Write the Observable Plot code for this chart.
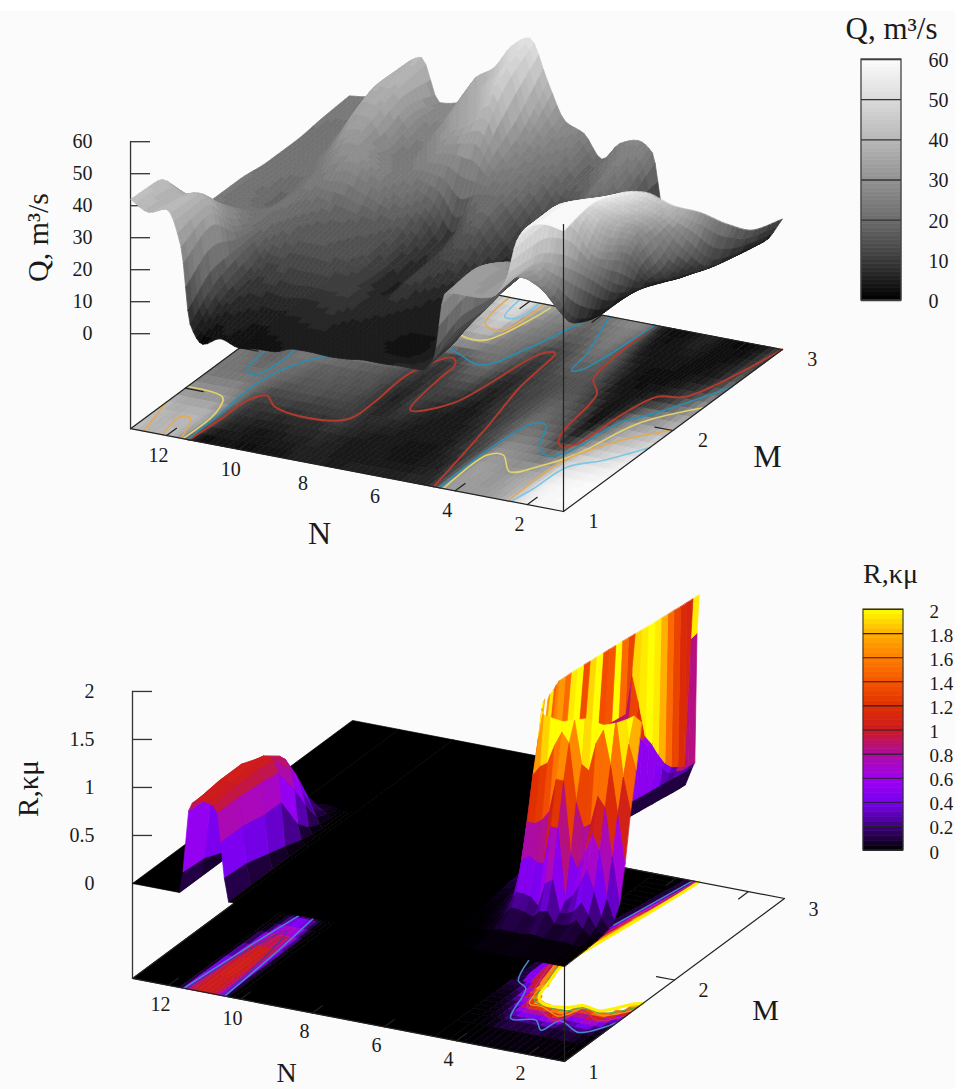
<!DOCTYPE html>
<html><head><meta charset="utf-8">
<script src="https://cdn.jsdelivr.net/npm/d3@7"></script>
<script src="https://cdn.jsdelivr.net/npm/@observablehq/plot@0.6"></script>
<style>
html,body{margin:0;padding:0;background:linear-gradient(#fff 11px,#fbfbfb 11px);}
svg{display:block;}
</style></head><body><div id="chart"></div>
<script>
// ---------- Q(N,M) ----------
const qN=[1,1.5,2,2.3,2.6,3,3.5,4,4.3,4.6,5,5.5,6,6.5,7,7.5,8,8.5,9,9.5,10,10.5,11,11.35,11.6,12,12.5,13];
const qM=[1,1.25,1.5,1.75,2,2.25,2.5,2.75,3];
const qValues=[
[58,59,57,52,39,33,32,32,31,10,6,6,5.7,5.7,5,4.7,5,4.9,3,2.7,2,3.8,1,6.6,30,41,39,42],
[60,59,57,53,38,35,31,33,32,14,6,4,3,3.5,4,4,5,6,5.5,5,4,5,7,14,34,39.5,38,41.5],
[57,54,50.5,47,31,22,26,29,28,14,10,5,4,4,5,6,7,10,9,9.5,9,10,9.5,17,24,30,30,31],
[51,45,39,30,21,6,17,20.5,20.5,17,11,7,4,5,7,10,5,9,13,14,15,15,17,19,21,22,22,23],
[40.5,35,30,23,10,2.5,11,16,18,16,12,9.5,5,8,12,11,7,10,15,16,17,18,20,22,21,18,21,23],
[32,20,10.5,8,5,3,5,12,14,14,13,11,7,12,19,16,8,16,20,23,26,29,28,25,23,21,21,22],
[22,8,4.5,3,2.5,2.5,3,9,14,17,19,14,10,17,22,25,32,31,29,25,23,27,34,34,30,23,21,22],
[14,5,2.5,2,3,4,3,4,10,18,24,19,17,22,25,30,47,40,35,31,25,30,38,38,34,26,22,23],
[11,3,1.5,2,4,6,3,2,6,24,27,25,19,26,28.5,40,52.6,49,41,37,28,27,40,38,34,29.5,24.5,23.7]];
// Q contour lines on the base, [N,M]
const q10=[[[1,3],[1.7,2.36],[2.36,2.3],[2.6,2.05],[2.71,1.69],[2.95,1.63],[3.2,1.68],[3.41,1.8],[3.77,2.22],[4.24,2.34],[4.37,2.42],[4.56,3]],
[[11.38,1],[11.3,1.26],[11.27,1.49],[10.98,1.58],[10.5,1.49],[9.64,1.44],[8.5,1.5],[8.42,1.71],[8.5,2.07],[8,2.3],[7.76,2.24],[7.69,2.08],[7.4,1.71],[6.65,1.86],[6.2,2.5],[5.9,2.54],[5.66,2.14],[5.2,1.69],[4.6,1]]];
const q20=[[[4.44,1],[4.5,1.46],[4.27,1.81],[3.94,1.81],[3.46,1.59],[3.07,1.52],[2.71,1.57],[2.4,1.98],[1.92,2.13],[1,2.54]],
[[11.42,1],[11.46,1.31],[11.57,1.65],[11.38,1.89],[10.67,2.12],[9.5,2.3],[8.36,2.38],[7.2,2.28],[6.7,2.49],[6.23,2.88],[6.1,3]],
[[12.5,2.2],[12.36,2.02],[12.17,1.79],[11.89,1.76],[11.68,1.99],[11.76,2.11],[11.6,2.3]],
[[5.8,3],[5.18,2.59],[5.02,2.4],[4.83,2.42],[4.54,3]]];
const q30=[[[4.33,1],[4.36,1.41],[4,1.44],[3.38,1.29],[2.9,1.39],[2.41,1.59],[1.98,2],[1,2.28]],
[[13,1.52],[11.9,1.48],[11.6,1.32],[11.55,1]],
[[8.9,2.6],[8.41,2.53],[7.8,2.54],[7.34,2.97]]];
const q40=[[[2.53,1],[2.5,1.5],[1.86,1.8],[1,2.01]],[[13,1.33],[12.63,1]],
[[12.1,1],[12.28,1.2],[12,1.22],[11.6,1]],[[8.56,3],[8.33,2.7],[7.75,2.65],[7.59,3]]];
const q50=[[[2.46,1],[2.35,1.15],[2.24,1.44],[1.63,1.58],[1,1.79]],[[8.27,3],[8.09,2.8],[7.78,2.81],[7.73,3]]];
// ---------- R(N,M) ----------
const bumpN=[10.2,10.33,10.45,10.55,10.64,10.75,10.9,11.05,11.2,11.35,11.44,11.6,11.7];
const bumpM=[1,1.2,1.4,1.55,1.7,1.8,1.9,2,2.1];
const bumpR=[
[0,0,.24,.6,.9,.97,.99,1,1,.95,.87,.22,0],
[0,0,.22,.6,.9,1,1.03,1.05,1.03,.95,.85,.2,0],
[0,0,.15,.55,.88,1,1.05,1.05,1.03,.9,.5,.1,0],
[0,0,.1,.55,.85,.98,1,1,.96,.85,.45,.05,0],
[0,0,.04,.2,.55,.75,.85,.87,.75,.35,.1,.02,0],
[0,0,.02,.08,.3,.45,.6,.62,.45,.18,.05,.01,0],
[0,0,0,.03,.1,.18,.3,.3,.2,.06,.02,0,0],
[0,0,0,.01,.04,.07,.1,.1,.07,.02,0,0,0],
[0,0,0,0,.01,.02,.03,.03,.02,0,0,0,0]];
const frontN=[1,1.2,1.4,1.6,1.8,2,2.2,2.4,2.6,2.8,3,3.2,3.4,3.6,3.8,4,4.2,4.6];
const frontM=[1,1.2,1.3,1.35,1.4,1.45,1.5,1.55,1.6,1.65,1.7];
const frontR=[
[0,0,0,0,0,0,0,0,0,0,0,0,0,0,0,0,0,0],
[.01,.01,.02,.04,.03,.03,.03,.05,.05,.03,.04,.04,.04,.02,.01,0,0,0],
[.02,.04,.1,.18,.12,.1,.1,.22,.2,.13,.16,.18,.18,.1,.04,.02,.01,0],
[.03,.08,.2,.32,.22,.18,.17,.5,.45,.2,.28,.3,.3,.14,.06,.03,.01,0],
[.05,.15,.4,.62,.45,.32,.25,1,1,.6,.6,.65,.6,.22,.09,.04,.02,0],
[.1,.3,.8,.95,.75,.55,.7,1.45,1.45,1.1,1,.95,.95,.45,.13,.06,.03,0],
[.22,.7,1.2,1.3,1,.95,1.2,1.8,1.9,1.75,1.55,1.5,1.4,.8,.2,.09,.04,.01],
[.6,1.1,1.6,1.95,1.8,1.5,1.55,2,2.3,2.4,2.3,2.2,1.75,1.1,.55,.13,.06,.02],
[1.1,1.45,2.05,2.6,2.6,2.3,2.3,2.6,3,3,3,3,2.2,1.45,.85,.2,.08,.03],
[1.5,1.75,2.5,3,3,3,3,3,3,3,3,3,2.7,1.95,1.2,.4,.13,.04],
[1.95,2,3,3,3,3,3,3,3,3,3,3,3,2.3,1.6,.7,.2,.05]];
// back wall: one strip per M, running from the clip line (R=2) to its foot (R=.2)
const backM=[1.7,1.75,1.8,1.85,1.9,1.95,2,2.05,2.1,2.15,2.2,2.25,2.3,2.35,2.4,2.45,2.5,2.55,2.6,2.65,2.7,2.75,2.8,2.85,2.9,2.95,3];
const backTop=[3.6,3.7,3.75,3.83,3.9,3.88,3.87,3.85,3.83,3.8,3.78,3.75,3.73,3.7,3.68,3.65,3.62,3.59,3.56,3.53,3.51,3.48,3.46,3.43,3.41,3.39,3.37];
const backFoot=[4.3,4.35,4.4,4.4,4.4,4.4,4.4,4.4,4.35,4.3,4.25,4.18,4.1,4.04,3.98,3.94,3.9,3.86,3.82,3.78,3.75,3.71,3.68,3.64,3.6,3.57,3.55];
const backR1=[1.2,1.2,1.2,1.2,1.2,1.2,1.2,1.2,1.2,1.2,1.2,1.2,1.2,1.2,1.2,1.2,1.6,1.25,.85,.73,.58,.45,.37,.33,.3,1.58,1.6];
const backR2=[.7,.7,.7,.7,.7,.7,.7,.7,.7,.7,.7,.7,.7,.7,.7,.7,1.05,1,.8,.7,.5,.4,.3,.28,.25,.25,.25];
const backTone0=[1.7,1.95,1.45,1.6,1.7,1.5,1.95,2,1.35,1.9,2,1.35,1.4,2,1.5,1.3,1.9,1.95,2,1.95,1.8,1.5,1.3,1.15,1.1,1.95,1.95];
const backTone1=[.9,.9,.9,.9,.9,.9,.9,.9,.9,.9,.9,.9,.9,.9,.9,.9,1.3,1.2,.6,.5,.5,.4,.3,.9,.85,.85,.85];
const backTone2=[.5,.5,.5,.5,.5,.5,.5,.5,.5,.5,.5,.5,.5,.5,.5,.5,.5,.5,.5,.5,.45,.3,.25,.3,.3,.2,.2];
const zeroPatches=[[4.6,10.2,1,3],[11.7,13,1,3],[10.2,11.7,2.1,3]];
// R contour lines on the base, [N,M]
const rBlue=[[[1,1.48],[1.55,1.31],[2.31,1.39],[2.45,1.26],[2.86,1.35],[3.47,1.32],[4.03,1.64],[4.42,1.7],[4.8,1.92]],
[[3.97,2.42],[3.55,3]],
[[11.58,1],[11.4,1.5],[11.2,1.92]],[[10.44,1],[10.6,1.5],[10.8,1.92]]];
const rPurple=[[[11.5,1],[11.3,1.5],[11,1.75],[10.75,1.5],[10.52,1]]];
const rMagenta=[[[1,1.57],[1.5,1.46],[2.09,1.53],[2.26,1.44],[2.46,1.38],[3.05,1.45],[3.44,1.46],[3.79,1.63],[4.22,1.93]],
[[3.85,2.42],[3.45,3]]];
const rOrange=[[[1,1.63],[1.55,1.52],[2.15,1.56],[2.35,1.46],[2.5,1.43],[3.1,1.49],[3.5,1.5],[3.75,1.68],[4.1,1.92]]];
const rGreen=[[[1,1.67],[1.6,1.54],[2.2,1.56],[2.45,1.5],[3.15,1.51],[3.48,1.54],[3.72,1.72],[4,1.92]]];
const rYellow=[[[1,1.71],[1.19,1.69],[1.72,1.56],[2.24,1.58],[2.56,1.53],[3.17,1.52],[3.48,1.58],[3.72,1.76],[3.9,1.91],[3.71,2.34],[3.5,2.72],[3.37,3]]];
// ---------- ticks ----------
const nTicks=[2,4,6,8,10,12];
const mTicks=[1,2,3];
const qTicks=[0,10,20,30,40,50,60];
const rAxisTicks=[0,.5,1,1.5,2];
const rBarTicks=[0,.2,.4,.6,.8,1,1.2,1.4,1.6,1.8,2];
const grayStops=[0,10,20,30,40,50,60];
const grayColors=["#000000","#3c3c3c","#6c6c6c","#929292","#b8b8b8","#dadada","#fcfcfc"];
const fireStops=[0,.2,.4,.6,.8,1,1.2,1.4,1.6,1.8,2];
const fireColors=["#000000","#400080","#7a00f0","#a000f0","#ae0ca0","#cc1a20","#e03000","#f65500","#ff7f00","#ffb000","#ffff00"];

// ---------- view of each panel ----------
const viewQ={o:[563,511],eN:[-36.08,-6.9],eM:[109.4,-81],floor:95,k:3.2};
const viewR={o:[564,1061],eN:[-36,-6.92],eM:[110,-81.5],floor:95,k:96};
const project=(v,n,m,z=0)=>[
  v.o[0]+v.eN[0]*(n-1)+v.eM[0]*(m-1),
  v.o[1]+v.eN[1]*(n-1)+v.eM[1]*(m-1)-v.floor-z*v.k];
const baseP=(v,n,m)=>{const p=project(v,n,m,0);return [p[0],p[1]+v.floor];};

let pid=0;
function poly(out,v,c,val,flat){ // c=[[n,m,z],...]
  const id=pid++;
  for(const [n,m,z] of c){const p=flat?baseP(v,n,m):project(v,n,m,z);out.push({id,x:p[0],y:p[1],v:val});}
}
// monotone cubic drawing mesh through the read values
function slopes(x,y){
  const k=x.length,d=[],s=new Array(k).fill(0);
  for(let i=0;i<k-1;i++)d[i]=(y[i+1]-y[i])/(x[i+1]-x[i]);
  s[0]=d[0];s[k-1]=d[k-2];
  for(let i=1;i<k-1;i++){
    if(d[i-1]*d[i]<=0){s[i]=0;continue;}
    const h0=x[i]-x[i-1],h1=x[i+1]-x[i],w1=2*h1+h0,w2=h1+2*h0;
    s[i]=(w1+w2)/(w1/d[i-1]+w2/d[i]);
  }
  return s;
}
function refine(x,y,sub){
  const s=slopes(x,y),out=[];
  for(let i=0;i<x.length-1;i++){
    const h=x[i+1]-x[i];
    for(let q=0;q<sub;q++){
      const t=q/sub,t2=t*t,t3=t2*t;
      out.push((2*t3-3*t2+1)*y[i]+(t3-2*t2+t)*h*s[i]+(-2*t3+3*t2)*y[i+1]+(t3-t2)*h*s[i+1]);
    }
  }
  out.push(y[y.length-1]);
  return out;
}
const refineX=(x,sub)=>{const o=[];for(let i=0;i<x.length-1;i++)for(let q=0;q<sub;q++)o.push(x[i]+(x[i+1]-x[i])*q/sub);o.push(x[x.length-1]);return o;};
function qSurface(flat,sN,sM,step){
  const out=[],nF=refineX(qN,sN),mF=refineX(qM,sM);
  const rowsF=qValues.map(r=>refine(qN,r,sN));
  const colsF=nF.map((_,i)=>refine(qM,rowsF.map(r=>r[i]),sM));
  for(let j=mF.length-2;j>=0;j--)for(let i=nF.length-2;i>=0;i--){
    const c=[[nF[i],mF[j],colsF[i][j]],[nF[i+1],mF[j],colsF[i+1][j]],[nF[i+1],mF[j+1],colsF[i+1][j+1]],[nF[i],mF[j+1],colsF[i][j+1]]];
    poly(out,viewQ,c,(Math.floor(d3.mean(c,d=>d[2])/step)+.5)*step,flat);
  }
  return out;
}
function clip2(c){
  const o=[];
  for(let i=0;i<c.length;i++){
    const a=c[i],b=c[(i+1)%c.length];
    if(a[2]<=2)o.push(a);
    if((a[2]<=2)!==(b[2]<=2)){const t=(2-a[2])/(b[2]-a[2]);o.push([a[0]+t*(b[0]-a[0]),a[1]+t*(b[1]-a[1]),2]);}
  }
  return o;
}
function rCells(){
  const cells=[];
  for(const [Ns,Ms,T] of [[bumpN,bumpM,bumpR],[frontN,frontM,frontR]]){
    for(let j=0;j<Ms.length-1;j++)for(let i=0;i<Ns.length-1;i++){
      const z=[T[j][i],T[j][i+1],T[j+1][i+1],T[j+1][i]];
      if(d3.min(z)>=2)continue;
      const c=clip2([[Ns[i],Ms[j],z[0]],[Ns[i+1],Ms[j],z[1]],[Ns[i+1],Ms[j+1],z[2]],[Ns[i],Ms[j+1],z[3]]]);
      const v=d3.mean(z);
      cells.push({nm:(Ns[i]+Ns[i+1])/2,mm:(Ms[j]+Ms[j+1])/2,c,v,b:v});
    }
  }
  for(let j=0;j<backM.length-1;j++){
    const cols=J=>{const a=backTop[J],f=backFoot[J];return [a,a+(f-a)/3,a+2*(f-a)/3,f,f+.2,4.6];};
    const rs=J=>[2,backR1[J],backR2[J],.2,0,0];
    const n0=cols(j),n1=cols(j+1),r0=rs(j),r1=rs(j+1);
    const tones=[backTone0[j],backTone1[j],backTone2[j],.1,0];
    for(let k=0;k<5;k++){
      const v=tones[k];
      cells.push({nm:(n0[k]+n0[k+1])/2,mm:(backM[j]+backM[j+1])/2,v,b:(r0[k]+r0[k+1])/2,
        c:[[n0[k],backM[j],r0[k]],[n0[k+1],backM[j],r0[k+1]],[n1[k+1],backM[j+1],r1[k+1]],[n1[k],backM[j+1],r1[k]]]});
    }
  }
  return cells.sort((a,b)=>d3.descending(a.mm,b.mm)||d3.descending(a.nm,b.nm));
}
function rPolys(flat){
  const out=[];
  for(const [n1,n2,m1,m2] of zeroPatches)
    poly(out,viewR,[[n1,m1,0],[n2,m1,0],[n2,m2,0],[n1,m2,0]],0,flat);
  for(const cell of rCells()){
    if(flat&&cell.b>1.9)continue;
    poly(out,viewR,cell.c,flat?cell.b:cell.v,flat);
  }
  return out;
}
const polyMark=(data)=>Plot.line(data,{x:"x",y:"y",z:"id",fill:"v",stroke:"v",strokeWidth:.7,curve:"linear-closed"});
const contourRows=(v,sets)=>sets.flatMap((l,i)=>l.map(([n,m])=>{const p=baseP(v,n,m);return {x:p[0],y:p[1],k:i};}));
const contourMark=(v,sets,color,w=1.6)=>Plot.line(contourRows(v,sets),{x:"x",y:"y",z:"k",stroke:color,strokeWidth:w,curve:"catmull-rom"});
const seg=(a,b)=>[{x:a[0],y:a[1]},{x:b[0],y:b[1]}];
const lineMark=(a,b,w=1.2,c="#222")=>Plot.line(seg(a,b),{x:"x",y:"y",stroke:c,strokeWidth:w});
function frame(v,mirror){
  const B=(n,m)=>baseP(v,n,m);
  const m=[lineMark(B(13,1),B(1,1)),lineMark(B(1,1),B(1,3)),lineMark(B(1,3),B(13,3)),lineMark(B(13,3),B(13,1))];
  for(const n of nTicks){m.push(lineMark(B(n,1),B(n,1.09)));m.push(lineMark(B(n,3),B(n,2.91)));}
  m.push(lineMark(B(1,2),B(1.5,2)));
  for(const mm of mirror)m.push(lineMark(B(13,mm),B(12.5,mm)));
  return m;
}
function zAxis(v,ticks,zTop){
  const p0=baseP(v,13,1),pt=project(v,13,1,zTop);
  return [lineMark(p0,pt,1.3,"#333"),
    Plot.ruleY(ticks,{y:d=>project(v,13,1,d)[1],x1:p0[0],x2:p0[0]+20,stroke:"#333",strokeWidth:1.3})];
}
const tx=(data,o)=>Plot.text(data,{fill:"#1a1a1a",...o});
const serif="'Liberation Serif',serif";
const seam=553;

// ---------- upper panel ----------
const upper=Plot.plot({
  width:955,height:seam,marginTop:0,marginRight:0,marginBottom:0,marginLeft:0,
  style:{background:"transparent",fontFamily:serif},
  x:{domain:[0,955],range:[0,955],axis:null},y:{domain:[0,seam],range:[0,seam],axis:null},
  color:{type:"linear",domain:grayStops,range:grayColors,clamp:true},
  marks:[
    polyMark(qSurface(true,3,3,60/64)),
    contourMark(viewQ,q10,"#b53a2e",1.9),contourMark(viewQ,q20,"#2b8db0"),contourMark(viewQ,q30,"#e3d36c"),
    contourMark(viewQ,q40,"#e2aa55"),contourMark(viewQ,q50,"#7cc6e6"),
    ...frame(viewQ,[1.5,2]),
    ...zAxis(viewQ,qTicks,60),
    polyMark(qSurface(false,4,6,60/32)),
    lineMark(baseP(viewQ,1,1),project(viewQ,1,1,60),1.2,"#222"),
    tx(qTicks,{x:()=>92,y:d=>project(viewQ,13,1,d)[1],text:d=>String(d),fontSize:20,textAnchor:"end"}),
    tx(nTicks,{x:d=>baseP(viewQ,d,1)[0]-8,y:d=>baseP(viewQ,d,1)[1]+20,text:d=>String(d),fontSize:20}),
    tx(mTicks,{x:d=>baseP(viewQ,1,d)[0]+30,y:d=>baseP(viewQ,1,d)[1]+10,text:d=>String(d),fontSize:20}),
    tx(["N"],{x:()=>319,y:()=>533,text:d=>d,fontSize:32}),
    tx(["M"],{x:()=>767,y:()=>456,text:d=>d,fontSize:32}),
    tx(["Q, m³/s"],{x:()=>38,y:()=>237,text:d=>d,fontSize:30,rotate:-90}),
    Plot.rect(d3.range(0,60,1),{x1:()=>861,x2:()=>901,y1:d=>300-d*241/60,y2:d=>300-(d+1)*241/60,fill:d=>d+.5,stroke:d=>d+.5,strokeWidth:.6}),
    Plot.ruleY(qTicks,{y:d=>300-d*241/60,x1:861,x2:901,stroke:"#333",strokeWidth:1.3}),
    Plot.rect([0],{x1:()=>861,x2:()=>901,y1:()=>300,y2:()=>59,stroke:"#444",strokeWidth:1.3,fill:"none"}),
    tx(qTicks,{x:()=>928,y:d=>300-d*241/60+1,text:d=>String(d),fontSize:20,textAnchor:"start"}),
    tx(["Q, m³/s"],{x:()=>891,y:()=>29,text:d=>d,fontSize:31})
  ]
});
// ---------- lower panel ----------
const lower=Plot.plot({
  width:955,height:1089-seam,marginTop:0,marginRight:0,marginBottom:0,marginLeft:0,
  style:{background:"transparent",fontFamily:serif},
  x:{domain:[0,955],range:[0,955],axis:null},y:{domain:[seam,1089],range:[0,1089-seam],axis:null},
  color:{type:"linear",domain:fireStops,range:fireColors,clamp:true},
  marks:[
    polyMark(rPolys(true)),
    contourMark(viewR,rBlue,"#4a86c8",1.5),contourMark(viewR,rPurple,"#5a2d9c",1.3),contourMark(viewR,rMagenta,"#c92a74",1.3),
    contourMark(viewR,rOrange,"#e8942a",1.3),contourMark(viewR,rGreen,"#5aa84a",1.3),
    contourMark(viewR,rYellow,"#ffef00",3),
    ...frame(viewR,[]),
    ...zAxis(viewR,rAxisTicks,2),
    lineMark(baseP(viewR,1,1),project(viewR,1,1,2),1.2,"#222"),
    polyMark(rPolys(false)),
    tx(rAxisTicks,{x:()=>94,y:d=>project(viewR,13,1,d)[1],text:d=>String(d),fontSize:20,textAnchor:"end"}),
    tx(nTicks,{x:d=>baseP(viewR,d,1)[0]-8,y:d=>baseP(viewR,d,1)[1]+19,text:d=>String(d),fontSize:20}),
    tx(mTicks,{x:d=>baseP(viewR,1,d)[0]+29,y:d=>baseP(viewR,1,d)[1]+11,text:d=>String(d),fontSize:20}),
    tx(["N"],{x:()=>286,y:()=>1073,text:d=>d,fontSize:28}),
    tx(["M"],{x:()=>765,y:()=>1010,text:d=>d,fontSize:30}),
    tx(["R,κμ"],{x:()=>28,y:()=>788,text:d=>d,fontSize:29,rotate:-90}),
    Plot.rect(d3.range(0,2,.04),{x1:()=>863,x2:()=>903,y1:d=>850-d*120.5,y2:d=>850-(d+.04)*120.5,fill:d=>d+.02,stroke:d=>d+.02,strokeWidth:.6}),
    Plot.ruleY(rBarTicks,{y:d=>850-d*120.5,x1:863,x2:903,stroke:"#222",strokeWidth:1.1}),
    Plot.rect([0],{x1:()=>863,x2:()=>903,y1:()=>850,y2:()=>609,stroke:"#333",strokeWidth:1.1,fill:"none"}),
    tx(rBarTicks,{x:()=>929,y:d=>850-d*120.5+2,text:d=>String(d),fontSize:19,textAnchor:"start"}),
    tx(["R,κμ"],{x:()=>890,y:()=>574,text:d=>d,fontSize:28})
  ]
});
document.getElementById("chart").append(upper,lower);
</script></body></html>
